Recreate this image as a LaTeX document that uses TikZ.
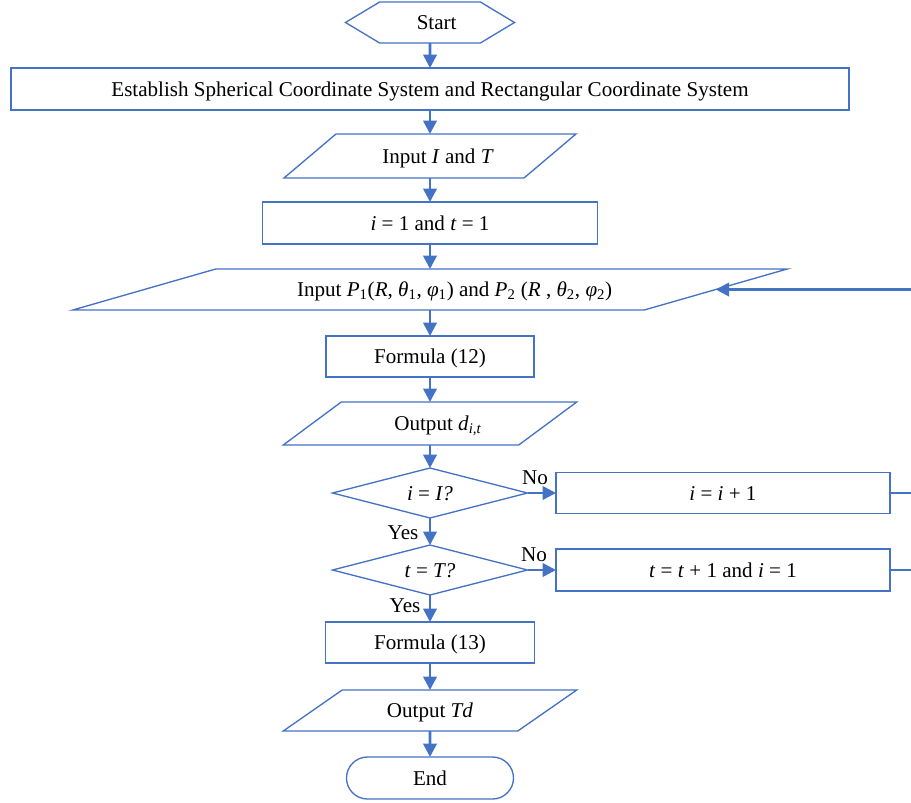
\documentclass[tikz,border=0pt]{standalone}
\usepackage{fontspec}
\setmainfont{Liberation Serif}
\usetikzlibrary{shapes.geometric,shapes.misc,shapes.symbols,arrows.meta}
\definecolor{flowblue}{RGB}{68,114,196}

\tikzset{every picture/.style={line width=0.75pt}}
\tikzset{
	base/.style={draw=flowblue, line width=1pt, inner sep=0pt, outer sep=0pt, text=black, text height=13pt, text depth=2pt, font=\fontsize{15.8}{18}\selectfont},
	procbox/.style={base, rectangle},
	iobox/.style={base, rectangle, draw=none},
	ioline/.style={draw=flowblue, line width=1pt},
	decbox/.style={base, diamond, aspect=3.9, minimum width=146.25pt, minimum height=37.5pt},
	starthex/.style={base, signal, signal to=west and east, signal pointer angle=62},
	endcap/.style={base, rounded rectangle},
	flow/.style={draw=flowblue, line width=2pt, -{Triangle[length=10pt,width=10pt]}},
	feed/.style={draw=flowblue, line width=2pt},
	lbl/.style={inner sep=0pt, font=\fontsize{15.8}{18}\selectfont}
}
% slanted outline round an io node: name, half slant
\newcommand{\ioshape}[2]{\draw[ioline] ([xshift=-#2]#1.south west) -- ([xshift=#2]#1.north west) -- ([xshift=#2]#1.north east) -- ([xshift=-#2]#1.south east) -- cycle;}

\begin{document}
\begin{tikzpicture}[x=0.75pt,y=0.75pt,yscale=-1,xscale=1]
	\useasboundingbox (0,0) rectangle (911,803);

	%Shape: Hexagon [id:start]
	\node[starthex, minimum width=126.75pt, minimum height=30.75pt] (start) at (430,22.5) {\hspace*{10pt}Start};
	%Shape: Rectangle [id:estab]
	\node[procbox, minimum width=628.5pt, minimum height=31.5pt] (estab) at (430,89) {Establish Spherical Coordinate System and Rectangular Coordinate System};
	%Shape: Parallelogram [id:inIT]
	\node[iobox, minimum width=180pt, minimum height=33pt] (inIT) at (430,156) {\hspace*{12pt}Input \textit{I} and \textit{T}};
	\ioshape{inIT}{19.5pt}
	%Shape: Rectangle [id:init]
	\node[procbox, minimum width=251.25pt, minimum height=31.5pt] (init) at (430,223) {\textit{i} = 1 and \textit{t} = 1};
	%Shape: Parallelogram [id:inP]
	\node[iobox, minimum width=428.6pt, minimum height=30.75pt] (inP) at (430,289.5) {\hspace*{37pt}Input \textit{P}\textsubscript{1}(\textit{R}, \textit{θ}\textsubscript{1}, \textit{φ}\textsubscript{1}) and \textit{P}\textsubscript{2} (\textit{R} , \textit{θ}\textsubscript{2}, \textit{φ}\textsubscript{2})};
	\ioshape{inP}{53.6pt}
	%Shape: Rectangle [id:f12]
	\node[procbox, minimum width=156pt, minimum height=30.75pt] (f12) at (430,356.5) {Formula (12)};
	%Shape: Parallelogram [id:outd]
	\node[iobox, minimum width=176.6pt, minimum height=32.25pt] (outd) at (430,423.5) {\hspace*{12pt}Output \textit{d}\textsubscript{\textit{i,t}}};
	\ioshape{outd}{21.75pt}
	%Shape: Diamond [id:qi]
	\node[decbox] (qi) at (430,493) {\textit{i} = \textit{I?}};
	%Shape: Rectangle [id:inci]
	\node[procbox, minimum width=250.5pt, minimum height=30.75pt] (inci) at (723,493) {\textit{i} = \textit{i} + 1};
	%Shape: Diamond [id:qt]
	\node[decbox] (qt) at (430,570) {\textit{t} = \textit{T?}};
	%Shape: Rectangle [id:inct]
	\node[procbox, minimum width=250.5pt, minimum height=31.5pt] (inct) at (723,570) {\textit{t} = \textit{t} + 1 and \textit{i} = 1};
	%Shape: Rectangle [id:f13]
	\node[procbox, minimum width=156.75pt, minimum height=30.75pt] (f13) at (430,642.5) {Formula (13)};
	%Shape: Parallelogram [id:outT]
	\node[iobox, minimum width=175.9pt, minimum height=30.75pt] (outT) at (430,710.5) {Output \textit{Td}};
	\ioshape{outT}{22.1pt}
	%Shape: Rounded Rect [id:stop]
	\node[endcap, minimum width=125.25pt, minimum height=31.5pt] (stop) at (430,778) {End};

	%Straight Lines [id:flow]
	\draw[flow] (start) -- (estab);
	\draw[flow] (estab) -- (inIT);
	\draw[flow] (inIT) -- (init);
	\draw[flow] (init) -- (inP);
	\draw[flow] (inP) -- (f12);
	\draw[flow] (f12) -- (outd);
	\draw[flow] (outd) -- (qi);
	\draw[flow] (qi) -- (qt);
	\draw[flow] (qt) -- (f13);
	\draw[flow] (f13) -- (outT);
	\draw[flow] (outT) -- (stop);
	\draw[flow] (qi) -- (inci);
	\draw[flow] (qt) -- (inct);

	%Straight Lines [id:feedback]
	\coordinate (edgeP) at (911,289.5);
	\coordinate (edgeI) at (911,493);
	\coordinate (edgeT) at (911,570);
	\draw[feed] (inci) -- (edgeI);
	\draw[feed] (inct) -- (edgeT);
	\draw[flow] (edgeP) -- (inP);

	% Text Node
	\node[lbl] (noI) at (535,478) {No};
	% Text Node
	\node[lbl] (yesI) at (403,533) {Yes};
	% Text Node
	\node[lbl] (noT) at (534,555) {No};
	% Text Node
	\node[lbl] (yesT) at (405,606) {Yes};

\end{tikzpicture}
\end{document}
